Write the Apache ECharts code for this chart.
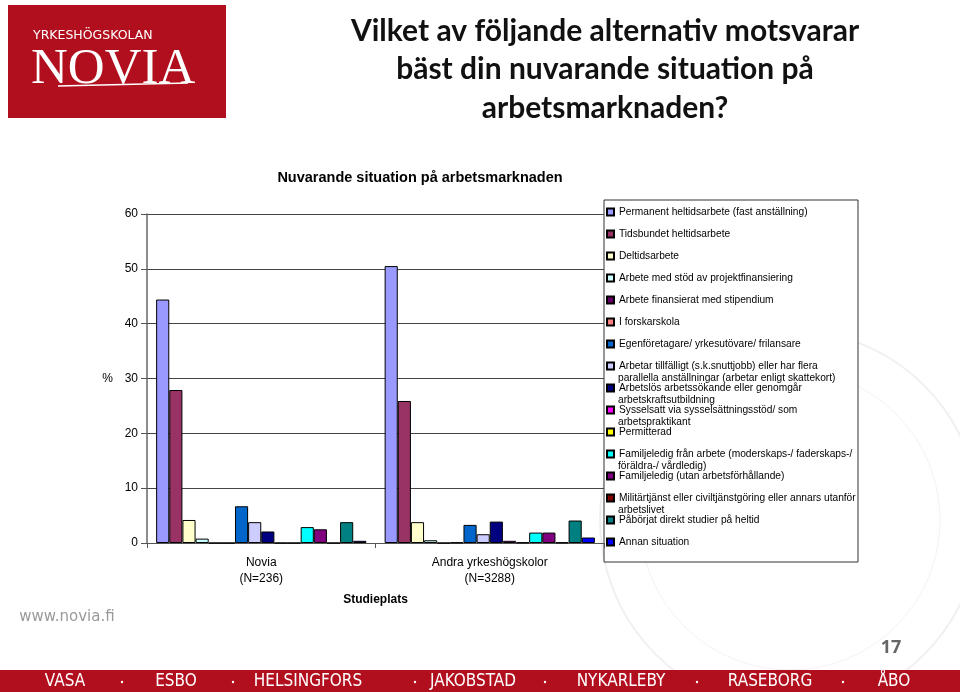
<!DOCTYPE html>
<html>
<head>
    <meta charset="UTF-8">
    <title>Nuvarande situation på arbetsmarknaden</title>
    <script type="text/javascript" src="https://cdn.jsdelivr.net/npm/echarts@6/dist/echarts.min.js"></script>
</head>
<body style="margin: 0;overflow: hidden;background: #fff;">
<div id="chart" style="width: 960px;height: 692px;"></div>
<script type="text/javascript">
    var groups = ['Novia\n(N=236)', 'Andra yrkeshögskolor\n(N=3288)'];
    var situations = [
        'Permanent heltidsarbete (fast anställning)',
        'Tidsbundet heltidsarbete',
        'Deltidsarbete',
        'Arbete med stöd av projektfinansiering',
        'Arbete finansierat med stipendium',
        'I forskarskola',
        'Egenföretagare/ yrkesutövare/ frilansare',
        'Arbetar tillfälligt (s.k.snuttjobb) eller har flera\nparallella anställningar (arbetar enligt skattekort)',
        'Arbetslös arbetssökande eller genomgår\narbetskraftsutbildning',
        'Sysselsatt via sysselsättningsstöd/ som\narbetspraktikant',
        'Permitterad',
        'Familjeledig från arbete (moderskaps-/ faderskaps-/\nföräldra-/ vårdledig)',
        'Familjeledig (utan arbetsförhållande)',
        'Militärtjänst eller civiltjänstgöring eller annars utanför\narbetslivet',
        'Påbörjat direkt studier på heltid',
        'Annan situation'
    ];
    // procent per situation, same order as above
    var noviaValues = [44.4, 27.9, 4.2, 0.8, 0, 0, 6.7, 3.8, 2.1, 0, 0, 2.9, 2.5, 0, 3.8, 0.4];
    var andraValues = [50.5, 25.9, 3.8, 0.5, 0, 0.1, 3.3, 1.6, 3.9, 0.4, 0.1, 1.9, 1.9, 0.1, 4.1, 1.0];
    var colors = ['#9999FF', '#993366', '#FFFFCC', '#CCFFFF', '#660066', '#FF8080', '#0066CC', '#CCCCFF',
        '#000080', '#FF00FF', '#FFFF00', '#00FFFF', '#800080', '#800000', '#008080', '#0000FF'];
    var yTicks = [0, 10, 20, 30, 40, 50, 60];
    var towns = ['VASA', 'ESBO', 'HELSINGFORS', 'JAKOBSTAD', 'NYKARLEBY', 'RASEBORG', 'ÅBO'];
    var townX = [65, 176, 308, 473, 621, 770, 894];
    var dotX = [122, 233, 415, 545, 697, 843];

    var red = '#B10F1E';
    var font = 'Liberation Sans, Arial, sans-serif';
    var legendLeft = 606, legendTop = 206, legendStep = 22, legendFont = 10.2;

    var series = situations.map(function (name, i) {
        return {
            name: name,
            type: 'bar',
            barGap: 0,
            barCategoryGap: '8%',
            itemStyle: {color: colors[i], borderColor: '#000', borderWidth: 1},
            data: [noviaValues[i], andraValues[i]]
        };
    });

    var graphics = [
        {type: 'rect', shape: {x: 8, y: 5, width: 218, height: 113}, style: {fill: red}},
        {type: 'text', x: 33, y: 36, style: {text: 'YRKESHÖGSKOLAN', fill: '#fff', font: '12.5px DejaVu Sans', verticalAlign: 'middle'}},
        {type: 'text', x: 31, y: 70, style: {text: 'NOVIA', fill: '#fff', font: '51px Liberation Serif', verticalAlign: 'middle'}},
        {type: 'line', shape: {x1: 58, y1: 86, x2: 188, y2: 83}, style: {stroke: '#fff', lineWidth: 1.5}},
        {type: 'circle', shape: {cx: 790, cy: 520, r: 190}, style: {fill: 'none', stroke: '#f0f0f0', lineWidth: 2}, z: -1},
        {type: 'circle', shape: {cx: 790, cy: 520, r: 150}, style: {fill: 'none', stroke: '#f3f3f3', lineWidth: 1}, z: -1},
        {type: 'rect', shape: {x: 604, y: 200, width: 254, height: 362}, style: {fill: '#fff', stroke: '#333', lineWidth: 1}},
        {type: 'text', x: 67, y: 617, style: {text: 'www.novia.fi', fill: '#9a9a9a', font: '15px DejaVu Sans', align: 'center', verticalAlign: 'middle'}},
        {type: 'text', x: 891, y: 648, style: {text: '17', fill: '#666', font: 'bold 18px Open Sans', align: 'center', verticalAlign: 'middle'}},
        {type: 'rect', shape: {x: 0, y: 670, width: 960, height: 22}, style: {fill: red}}
    ];
    // second line of the wrapped legend entries, hanging under the first line as in Excel
    situations.forEach(function (s, i) {
        var parts = s.split('\n');
        if (parts.length > 1) {
            graphics.push({type: 'text', z: 10, x: legendLeft + 12, y: legendTop + legendStep * i + 6 + 12.5,
                style: {text: parts[1], fill: '#000', font: legendFont + 'px ' + font, verticalAlign: 'middle'}});
        }
    });
    towns.forEach(function (t, i) {
        graphics.push({type: 'text', x: townX[i], y: 682, style: {text: t, fill: '#fff',
            font: '17px Liberation Sans Narrow, DejaVu Sans Condensed, sans-serif', align: 'center', verticalAlign: 'middle'}});
    });
    dotX.forEach(function (x) {
        graphics.push({type: 'circle', shape: {cx: x, cy: 682, r: 1.2}, style: {fill: '#fff'}});
    });

    var chart = echarts.init(document.getElementById('chart'), null, {renderer: 'canvas'});
    var option = {
        backgroundColor: '#fff',
        animation: false,
        textStyle: {fontFamily: font},
        title: [{
            text: 'Vilket av följande alternativ motsvarar\nbäst din nuvarande situation på\narbetsmarknaden?',
            left: 600, top: 7, textAlign: 'center',
            textStyle: {fontFamily: 'Lato', fontWeight: 'bold', fontSize: 30, lineHeight: 38.5, color: '#111'}
        }, {
            text: 'Nuvarande situation på arbetsmarknaden',
            left: 415, top: 165, textAlign: 'center',
            textStyle: {fontFamily: font, fontWeight: 'bold', fontSize: 14.5, color: '#000'}
        }],
        legend: {
            orient: 'vertical',
            left: legendLeft, top: legendTop,
            padding: 0,
            itemWidth: 7, itemHeight: 7, itemGap: legendStep - 12,
            icon: 'rect',
            formatter: function (name) {
                return name.split('\n')[0];
            },
            textStyle: {fontFamily: font, fontSize: legendFont, color: '#000', lineHeight: 12},
            data: situations
        },
        grid: {left: 147, right: 356, top: 214, bottom: 149, outerBoundsMode: 'none'},
        xAxis: {
            type: 'category',
            data: groups,
            name: 'Studieplats',
            nameLocation: 'middle',
            nameGap: 51,
            nameTextStyle: {fontFamily: font, fontWeight: 'bold', fontSize: 12, color: '#000'},
            axisLine: {lineStyle: {color: '#555'}},
            axisTick: {show: true, length: 5, lineStyle: {color: '#555'}},
            axisLabel: {fontFamily: font, fontSize: 12, color: '#000', lineHeight: 16, margin: 12}
        },
        yAxis: {
            type: 'value',
            min: yTicks[0], max: yTicks[yTicks.length - 1], interval: 10,
            name: '%',
            nameLocation: 'middle',
            nameRotate: 0,
            nameGap: 34,
            nameTextStyle: {fontFamily: font, fontSize: 12, color: '#000'},
            axisLine: {show: true, lineStyle: {color: '#666', width: 1.5}},
            axisTick: {show: true, length: 6, lineStyle: {color: '#555'}},
            axisLabel: {fontFamily: font, fontSize: 12, color: '#000', margin: 9},
            splitLine: {lineStyle: {color: '#444', width: 1}}
        },
        graphic: graphics,
        series: series
    };
    chart.setOption(option);
</script>
</body>
</html>
